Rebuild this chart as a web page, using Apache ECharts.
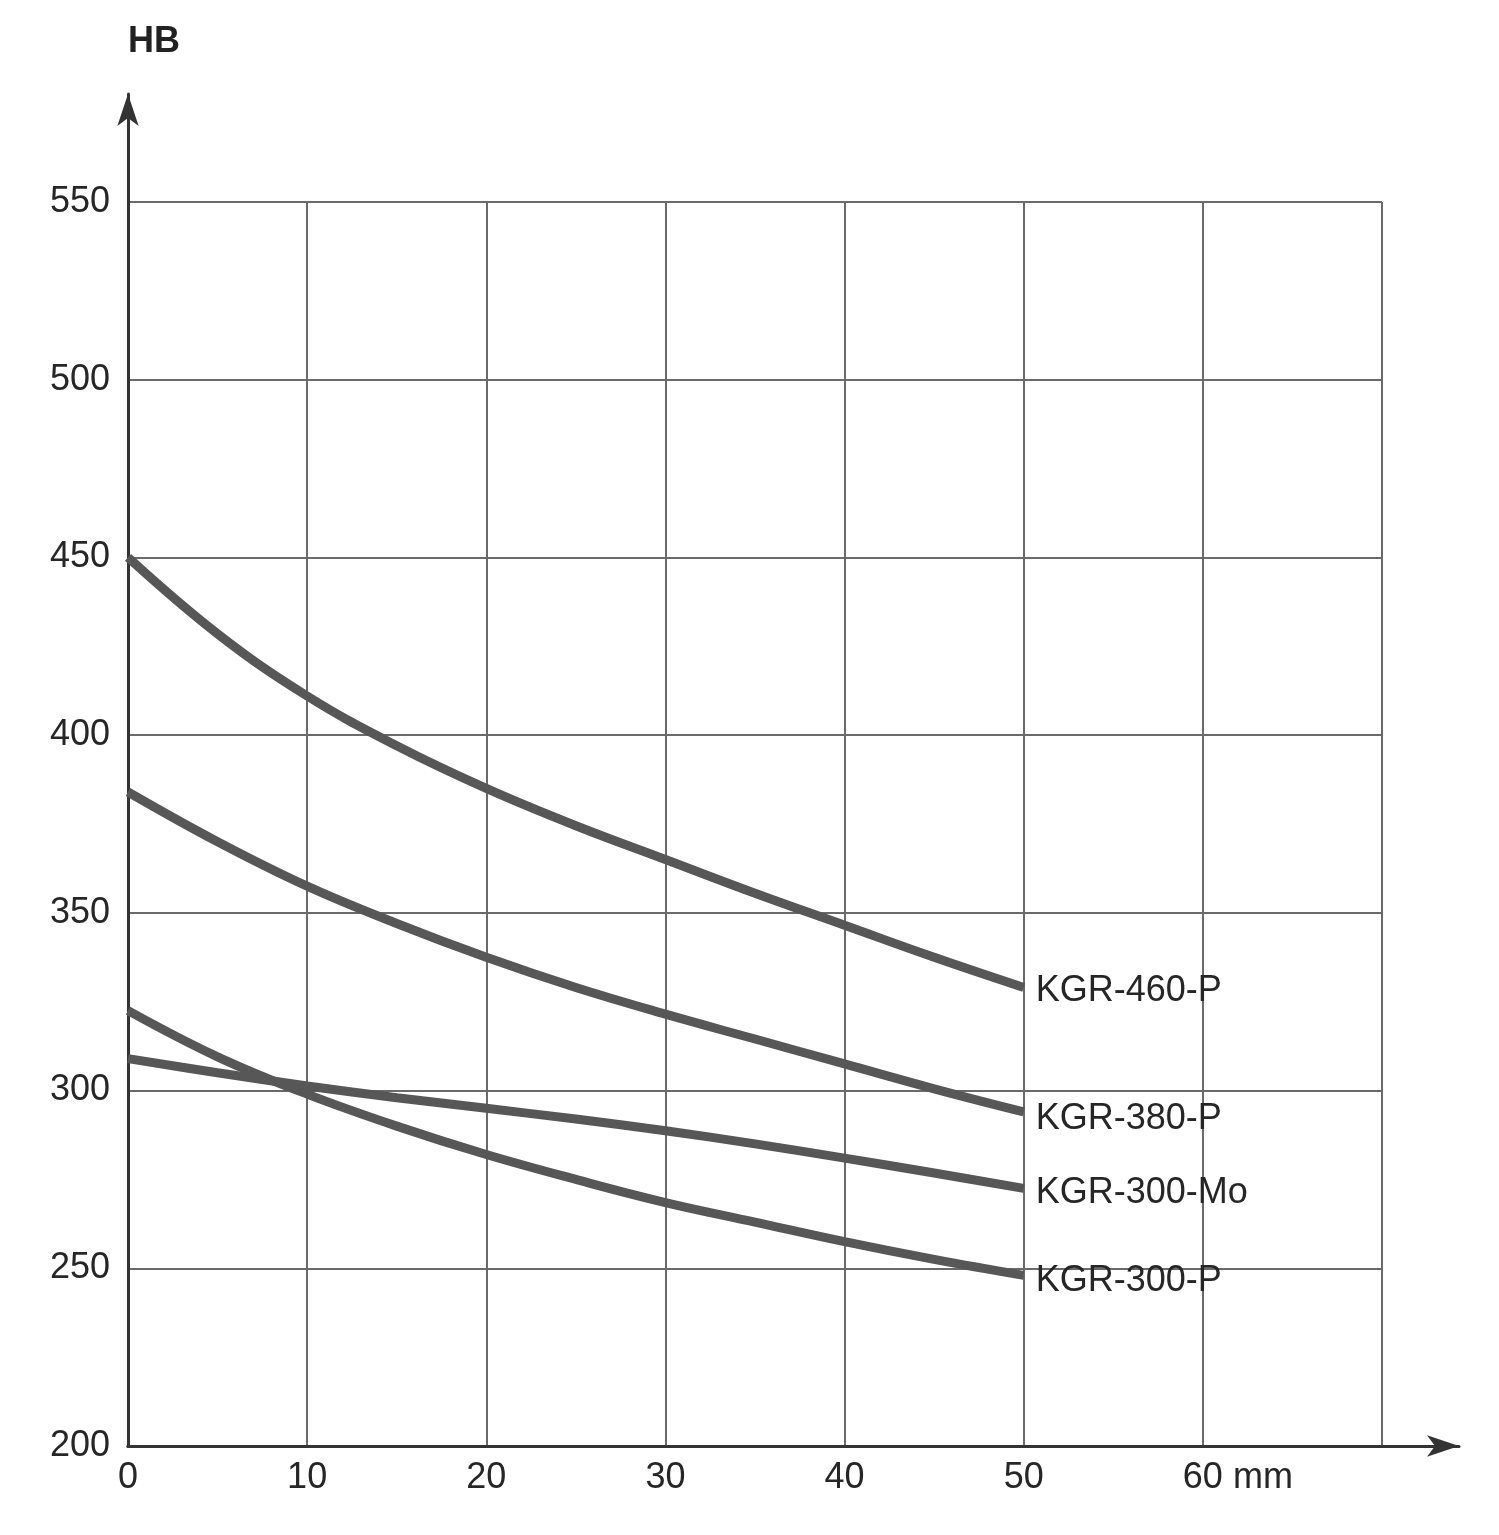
<!DOCTYPE html>
<html>
<head>
<meta charset="utf-8">
<script src="https://cdn.jsdelivr.net/npm/echarts@6/dist/echarts.min.js"></script>
<style>
html,body{margin:0;padding:0;background:#fff;}
#chart{width:1499px;height:1535px;}
</style>
</head>
<body>
<div id="chart"></div>
<script>
// ---- data ----
const xValues   = [0, 5, 10, 15, 20, 25, 30, 35, 40, 45, 50];
const kgr460p   = [450, 428.5, 411, 397, 385, 374.5, 365, 355.5, 346.5, 337.5, 329];
const kgr380p   = [384, 370, 357.5, 347, 337.5, 329, 321.5, 314.5, 307.5, 300.5, 294];
const kgr300mo  = [309, 305, 301.3, 298, 295, 292, 288.7, 285, 281, 276.8, 272.5];
const kgr300p   = [322.5, 309.5, 299, 290, 282, 275, 268.5, 263, 257.5, 252.5, 248];
const seriesNames = ['KGR-460-P', 'KGR-380-P', 'KGR-300-Mo', 'KGR-300-P'];
const xTickLabels = ['0', '10', '20', '30', '40', '50', '60', ''];
const yAxisName = 'HB';
const xUnit = 'mm';

const FONT = '"Liberation Sans", Arial, Helvetica, sans-serif';
const TXT = '#262626';
const FS = 36;
const seriesValues = [kgr460p, kgr380p, kgr300mo, kgr300p];
const labelOffsets = [[0, 4], [0, 7], [0, 5], [0, 6]];

const chart = echarts.init(document.getElementById('chart'));
chart.setOption({
  animation: false,
  backgroundColor: '#fff',
  grid: [
    {left: 128, right: 117, top: 202, bottom: 89},
    {left: 128, right: 40, top: 94, bottom: 89}
  ],
  xAxis: [
    {
      gridIndex: 0, type: 'value', min: 0, max: 70, interval: 10,
      axisLine: {show: true, lineStyle: {color: '#444', width: 3}},
      axisTick: {show: false},
      splitLine: {show: true, lineStyle: {color: '#6a6a6a', width: 2}},
      axisLabel: {
        margin: 14, fontSize: FS, color: TXT, fontFamily: FONT,
        formatter: function (v) {
          const t = xTickLabels[Math.round(v / 10)];
          if (v === 60) return '{s|}' + t + '{u| ' + xUnit + '}';
          return t;
        },
        rich: {
          s: {width: 70, fontSize: FS, fontFamily: FONT},
          u: {fontSize: FS, color: TXT, fontFamily: FONT}
        }
      }
    },
    {
      gridIndex: 1, type: 'value', min: 0, max: 1,
      axisLine: {show: true, symbol: ['none', 'arrow'], symbolSize: [16, 32], lineStyle: {color: '#333', width: 3}},
      axisTick: {show: false}, axisLabel: {show: false}, splitLine: {show: false}
    }
  ],
  yAxis: [
    {
      gridIndex: 0, type: 'value', min: 200, max: 550, interval: 50,
      axisLine: {show: true, lineStyle: {color: '#444', width: 3}},
      axisTick: {show: false},
      splitLine: {show: true, lineStyle: {color: '#6a6a6a', width: 2}},
      axisLabel: {margin: 18, fontSize: FS, color: TXT, fontFamily: FONT}
    },
    {
      gridIndex: 1, type: 'value', min: 0, max: 1,
      name: yAxisName, nameLocation: 'end', nameGap: 34,
      nameTextStyle: {fontSize: FS, fontWeight: 'bold', color: '#222', fontFamily: FONT, align: 'left'},
      axisLine: {show: true, symbol: ['none', 'arrow'], symbolSize: [16, 32], lineStyle: {color: '#333', width: 3}},
      axisTick: {show: false}, axisLabel: {show: false}, splitLine: {show: false}
    }
  ],
  series: seriesNames.map(function (name, k) {
    return {
      name: name, type: 'line', xAxisIndex: 0, yAxisIndex: 0,
      smooth: 0.4, showSymbol: false, symbol: 'none',
      lineStyle: {color: '#575757', width: 9},
      data: xValues.map(function (x, i) { return [x, seriesValues[k][i]]; }),
      endLabel: {
        show: true, formatter: '{a}', distance: 12, offset: labelOffsets[k],
        fontSize: FS, color: TXT, fontFamily: FONT
      }
    };
  })
});
</script>
</body>
</html>
